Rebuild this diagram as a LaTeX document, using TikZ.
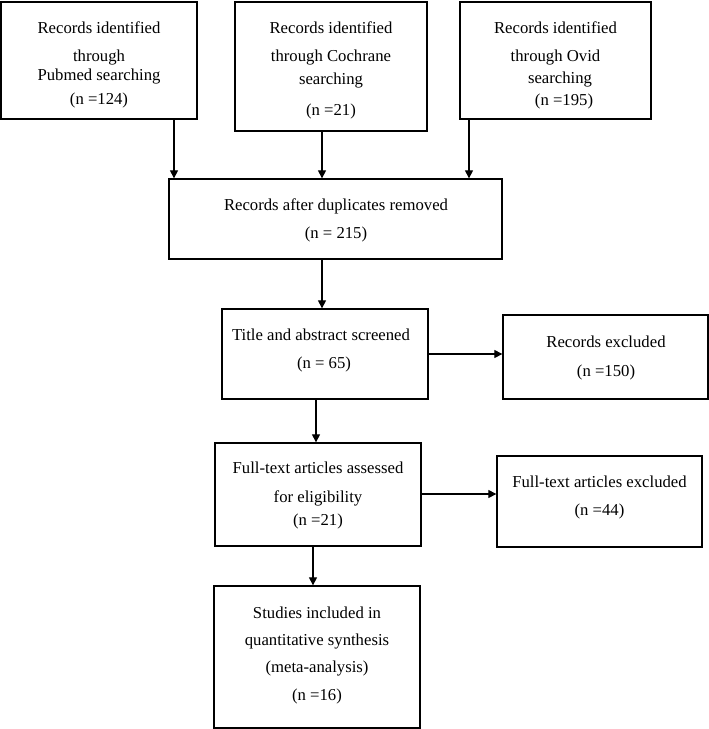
\documentclass[tikz,border=0pt]{standalone}
\usepackage{fontspec}
\setmainfont{Liberation Serif}
\usetikzlibrary{arrows.meta}
\begin{document}
\begin{tikzpicture}[x=1pt,y=-1pt,
  box/.style={draw,line width=1.3pt,inner sep=0pt,minimum width=#1},
  txt/.style={anchor=base,inner sep=0pt,font=\fontsize{16.7}{20}\selectfont},
  arr/.style={line width=1.1pt,-{Triangle[length=8pt,width=8pt]}}]
\useasboundingbox (0,0) rectangle (709,729);
% boxes
\node[box=196pt,minimum height=117pt] (A) at (99,60.5) {};
\node[box=192pt,minimum height=129pt] (B) at (331,66.5) {};
\node[box=191pt,minimum height=117pt] (C) at (555.5,60.5) {};
\node[box=333pt,minimum height=80pt] (D) at (335.5,219) {};
\node[box=206pt,minimum height=90pt] (E) at (325,354) {};
\node[box=205pt,minimum height=84pt] (F) at (605.5,357) {};
\node[box=206pt,minimum height=103pt] (G) at (318,494.5) {};
\node[box=205pt,minimum height=91pt] (H) at (599.5,501.5) {};
\node[box=206pt,minimum height=142pt] (I) at (317,657) {};
% texts
\node[txt] (a1) at (99,33) {Records identified};
\node[txt] (a2) at (99,61) {through};
\node[txt] (a3) at (99,80) {Pubmed searching};
\node[txt] (a4) at (99,104) {(n =124)};
\node[txt] (b1) at (331,33) {Records identified};
\node[txt] (b2) at (331,61) {through Cochrane};
\node[txt] (b3) at (331,84) {searching};
\node[txt] (b4) at (331,115) {(n =21)};
\node[txt] (c1) at (555.5,33) {Records identified};
\node[txt] (c2) at (555.5,61) {through Ovid};
\node[txt] (c3) at (560,83) {searching};
\node[txt] (c4) at (564,105) {(n =195)};
\node[txt] (d1) at (336,210) {Records after duplicates removed};
\node[txt] (d2) at (336,238) {(n = 215)};
\node[txt] (e1) at (321,340) {Title and abstract screened};
\node[txt] (e2) at (324,368) {(n = 65)};
\node[txt] (f1) at (606,347) {Records excluded};
\node[txt] (f2) at (606,376) {(n =150)};
\node[txt] (g1) at (318,473) {Full-text articles assessed};
\node[txt] (g2) at (318,502) {for eligibility};
\node[txt] (g3) at (318,525) {(n =21)};
\node[txt] (h1) at (599.5,487) {Full-text articles excluded};
\node[txt] (h2) at (599.5,515) {(n =44)};
\node[txt] (i1) at (317,618) {Studies included in};
\node[txt] (i2) at (317,645) {quantitative synthesis};
\node[txt] (i3) at (317,672) {(meta-analysis)};
\node[txt] (i4) at (317,700) {(n =16)};
% connector anchors
\coordinate (xa) at (174,0);
\coordinate (xb) at (322,0);
\coordinate (xc) at (469,0);
\coordinate (xe) at (316,0);
\coordinate (xg) at (313,0);
\coordinate (ye) at (0,354);
\coordinate (yg) at (0,494);
% connectors
\draw[arr] (xa |- A.south) -- (xa |- D.north);
\draw[arr] (xb |- B.south) -- (xb |- D.north);
\draw[arr] (xc |- C.south) -- (xc |- D.north);
\draw[arr] (xb |- D.south) -- (xb |- E.north);
\draw[arr] (E.east |- ye) -- (F.west |- ye);
\draw[arr] (xe |- E.south) -- (xe |- G.north);
\draw[arr] (G.east |- yg) -- (H.west |- yg);
\draw[arr] (xg |- G.south) -- (xg |- I.north);
\end{tikzpicture}
\end{document}
